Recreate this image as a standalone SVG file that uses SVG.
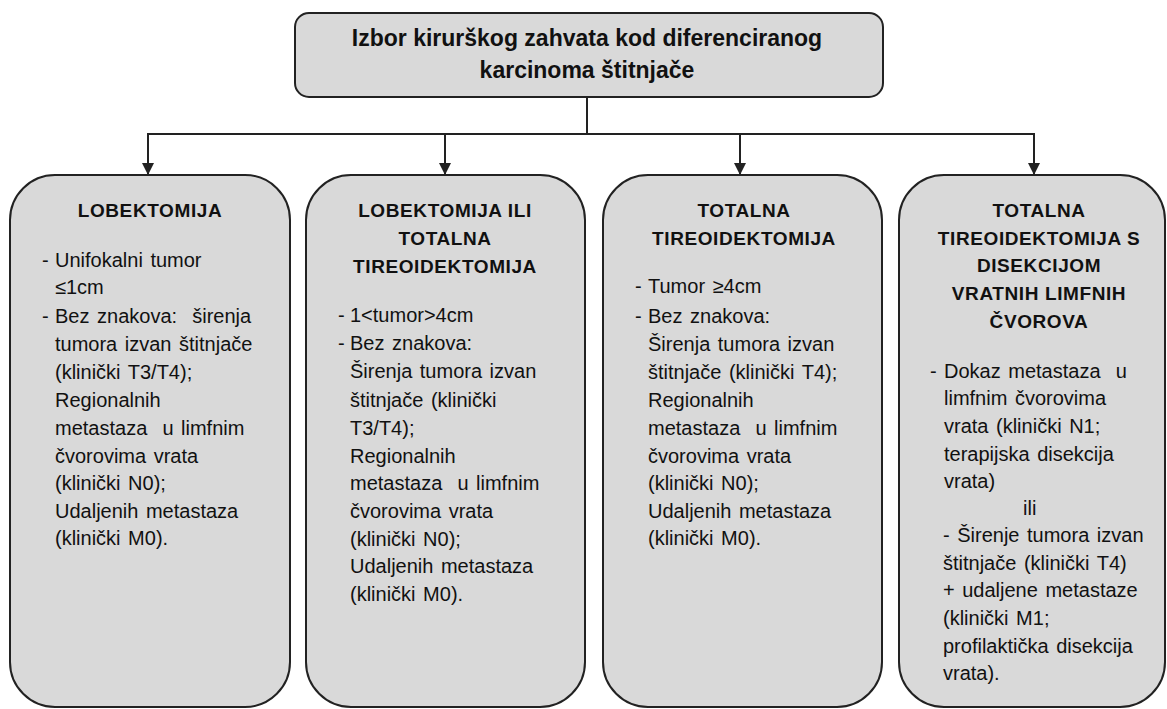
<svg xmlns="http://www.w3.org/2000/svg" width="1167" height="709" viewBox="0 0 1167 709">
<style>
.box{fill:#d9d9d9;stroke:#222;stroke-width:2}
.ln{stroke:#222;stroke-width:2;fill:none}
.t{font-family:"Liberation Sans",Arial,sans-serif;font-size:20px;fill:#111;word-spacing:2px}
.h{font-family:"Liberation Sans",Arial,sans-serif;font-size:19px;font-weight:bold;fill:#111;text-anchor:middle;letter-spacing:0.6px}
.top{font-family:"Liberation Sans",Arial,sans-serif;font-size:23px;font-weight:bold;fill:#111;text-anchor:middle}
</style>
<defs>
<marker id="arr" markerWidth="12" markerHeight="12" refX="11" refY="6" orient="auto" markerUnits="userSpaceOnUse">
<path d="M0,0 L12,6 L0,12 Z" fill="#222"/>
</marker>
</defs>
<rect width="1167" height="709" fill="#fff"/>
<g id="connectors">
<line class="ln" x1="587" y1="97" x2="587" y2="134"/>
<line class="ln" x1="147" y1="134" x2="1035" y2="134"/>
<line class="ln" x1="148" y1="134" x2="148" y2="174" marker-end="url(#arr)"/>
<line class="ln" x1="445" y1="134" x2="445" y2="174" marker-end="url(#arr)"/>
<line class="ln" x1="740" y1="134" x2="740" y2="174" marker-end="url(#arr)"/>
<line class="ln" x1="1034" y1="134" x2="1034" y2="174" marker-end="url(#arr)"/>
</g>
<g id="root">
<rect class="box" x="295" y="13" width="588" height="84" rx="14"/>
<text class="top" x="587" y="46">Izbor kirurškog zahvata kod diferenciranog</text>
<text class="top" x="587" y="78">karcinoma štitnjače</text>
</g>
<g id="lobektomija">
<rect class="box" x="10" y="175" width="280" height="532" rx="45"/>
<text class="h" x="150" y="217">LOBEKTOMIJA</text>
<text class="t" x="42" y="267">-</text>
<text class="t" x="55" y="267">Unifokalni tumor</text>
<text class="t" x="55" y="294">≤1cm</text>
<text class="t" x="42" y="323">-</text>
<text class="t" x="55" y="323">Bez znakova:&#160; širenja</text>
<text class="t" x="55" y="351">tumora izvan štitnjače</text>
<text class="t" x="55" y="379">(klinički T3/T4);</text>
<text class="t" x="55" y="407">Regionalnih</text>
<text class="t" x="55" y="435">metastaza&#160; u limfnim</text>
<text class="t" x="55" y="463">čvorovima vrata</text>
<text class="t" x="55" y="490">(klinički N0);</text>
<text class="t" x="55" y="518">Udaljenih metastaza</text>
<text class="t" x="55" y="545">(klinički M0).</text>
</g>
<g id="lobektomija-ili-totalna">
<rect class="box" x="306" y="175" width="279" height="532" rx="45"/>
<text class="h" x="445" y="217">LOBEKTOMIJA ILI</text>
<text class="h" x="445" y="245">TOTALNA</text>
<text class="h" x="445" y="273">TIREOIDEKTOMIJA</text>
<text class="t" x="338" y="322">-</text>
<text class="t" x="350" y="322">1&lt;tumor&gt;4cm</text>
<text class="t" x="338" y="350">-</text>
<text class="t" x="350" y="350">Bez znakova:</text>
<text class="t" x="350" y="378">Širenja tumora izvan</text>
<text class="t" x="350" y="407">štitnjače (klinički</text>
<text class="t" x="350" y="435">T3/T4);</text>
<text class="t" x="350" y="463">Regionalnih</text>
<text class="t" x="350" y="490">metastaza&#160; u limfnim</text>
<text class="t" x="350" y="518">čvorovima vrata</text>
<text class="t" x="350" y="546">(klinički N0);</text>
<text class="t" x="350" y="573">Udaljenih metastaza</text>
<text class="t" x="350" y="601">(klinički M0).</text>
</g>
<g id="totalna">
<rect class="box" x="603" y="175" width="279" height="532" rx="45"/>
<text class="h" x="744" y="217">TOTALNA</text>
<text class="h" x="744" y="245">TIREOIDEKTOMIJA</text>
<text class="t" x="635" y="293">-</text>
<text class="t" x="648" y="293">Tumor ≥4cm</text>
<text class="t" x="635" y="323">-</text>
<text class="t" x="648" y="323">Bez znakova:</text>
<text class="t" x="648" y="351">Širenja tumora izvan</text>
<text class="t" x="648" y="379">štitnjače (klinički T4);</text>
<text class="t" x="648" y="407">Regionalnih</text>
<text class="t" x="648" y="435">metastaza&#160; u limfnim</text>
<text class="t" x="648" y="463">čvorovima vrata</text>
<text class="t" x="648" y="490">(klinički N0);</text>
<text class="t" x="648" y="518">Udaljenih metastaza</text>
<text class="t" x="648" y="545">(klinički M0).</text>
</g>
<g id="totalna-s-disekcijom">
<rect class="box" x="899" y="175" width="266" height="532" rx="45"/>
<text class="h" x="1039" y="217">TOTALNA</text>
<text class="h" x="1039" y="245">TIREOIDEKTOMIJA S</text>
<text class="h" x="1039" y="272">DISEKCIJOM</text>
<text class="h" x="1039" y="300">VRATNIH LIMFNIH</text>
<text class="h" x="1039" y="328">ČVOROVA</text>
<text class="t" x="930" y="378">-</text>
<text class="t" x="944" y="378">Dokaz metastaza&#160; u</text>
<text class="t" x="944" y="405">limfnim čvorovima</text>
<text class="t" x="944" y="433">vrata (klinički N1;</text>
<text class="t" x="944" y="461">terapijska disekcija</text>
<text class="t" x="944" y="488">vrata)</text>
<text class="t" x="1023" y="515">ili</text>
<text class="t" x="943" y="542">- Širenje tumora izvan</text>
<text class="t" x="943" y="570">štitnjače (klinički T4)</text>
<text class="t" x="943" y="597">+ udaljene metastaze</text>
<text class="t" x="943" y="625">(klinički M1;</text>
<text class="t" x="943" y="653">profilaktička disekcija</text>
<text class="t" x="943" y="680">vrata).</text>
</g>
</svg>
